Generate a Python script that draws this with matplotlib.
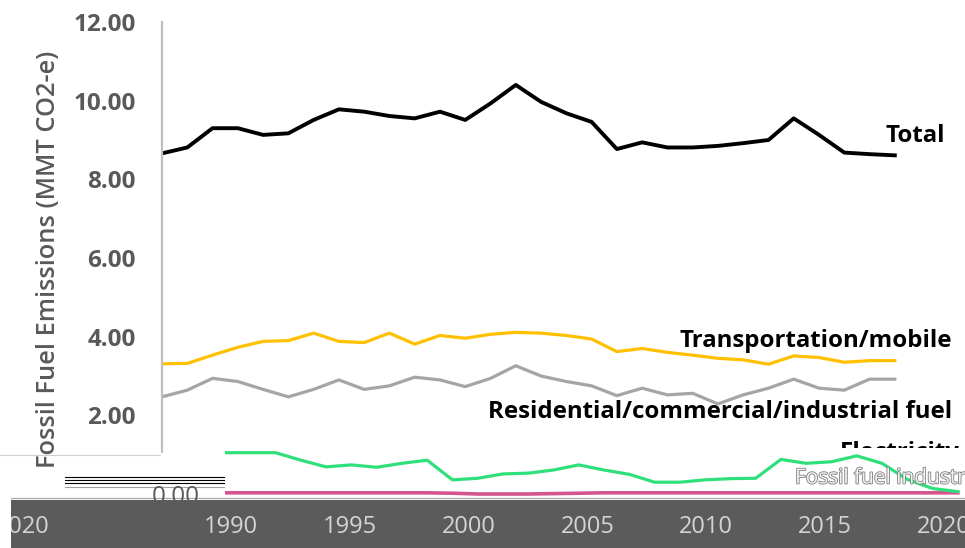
import matplotlib
matplotlib.use("Agg")
import matplotlib.pyplot as plt
import matplotlib.patheffects as pe
from matplotlib.patches import Rectangle

plt.rcParams['font.family'] = ['Open Sans', 'DejaVu Sans']

# data (MMT CO2-e), 1987-2016
years = list(range(1987, 2017))
total = [8.66, 8.81, 9.30, 9.30, 9.13, 9.17, 9.51, 9.78, 9.72, 9.61,
         9.55, 9.72, 9.51, 9.93, 10.40, 9.97, 9.68, 9.46, 8.77, 8.94,
         8.81, 8.81, 8.85, 8.92, 9.00, 9.55, 9.13, 8.68, 8.64, 8.61]
transport = [3.31, 3.32, 3.53, 3.73, 3.88, 3.90, 4.09, 3.88, 3.85, 4.09,
             3.81, 4.03, 3.96, 4.06, 4.11, 4.09, 4.03, 3.94, 3.62, 3.70,
             3.60, 3.53, 3.45, 3.41, 3.30, 3.51, 3.47, 3.35, 3.39, 3.39]
residential = [2.47, 2.64, 2.94, 2.86, 2.66, 2.47, 2.66, 2.90, 2.66, 2.75,
               2.97, 2.90, 2.73, 2.94, 3.26, 3.00, 2.86, 2.75, 2.50, 2.69,
               2.52, 2.56, 2.29, 2.52, 2.69, 2.92, 2.69, 2.64, 2.92, 2.92]
electricity = [1.05, 1.05, 1.05, 0.86, 0.69, 0.74, 0.68, 0.78, 0.86, 0.36,
               0.40, 0.51, 0.53, 0.61, 0.74, 0.61, 0.50, 0.30, 0.30, 0.36,
               0.39, 0.40, 0.88, 0.78, 0.82, 0.97, 0.78, 0.37, 0.14, 0.06]
fossil_industry = [0.03, 0.03, 0.03, 0.03, 0.03, 0.03, 0.03, 0.03, 0.03, 0.02,
                   0.00, 0.00, 0.00, 0.01, 0.02, 0.03, 0.03, 0.03, 0.03, 0.03,
                   0.03, 0.03, 0.03, 0.03, 0.03, 0.03, 0.03, 0.03, 0.03, 0.03]
yticks = [2, 4, 6, 8, 10, 12]
band_years = [1990, 1995, 2000, 2005, 2010, 2015, 2020]

# layout in pixels
W, H = 965, 548
px_year = 25.27
px_unit = 39.33
gray_txt = '#595959'


def box(x0, y0, x1, y1):
    return [x0 / W, (H - y1) / H, (x1 - x0) / W, (y1 - y0) / H]


fig = plt.figure(figsize=(W / 100, H / 100), dpi=100)

# main chart
ax = fig.add_axes(box(162, 22, 965, 494), zorder=1)
ax.set_facecolor('none')
ax.plot(years, total, color='black', lw=2.8, solid_joinstyle='round')
ax.plot(years, transport, color='#ffc000', lw=2.3)
ax.plot(years, residential, color='#a5a5a5', lw=2.3)
ax.set_xlim(1987, 1987 + 803 / px_year)
ax.set_ylim(0, 12)
ax.set_xticks([])
ax.set_yticks(yticks)
ax.set_yticklabels([f"{v:.2f}" for v in yticks])
ax.tick_params(axis='y', length=0, pad=19, labelsize=17.5, labelcolor=gray_txt)
for lab in ax.get_yticklabels():
    lab.set_fontweight('bold')
for side in ['top', 'right', 'bottom']:
    ax.spines[side].set_visible(False)
ax.spines['left'].set_color('#bfbfbf')
ax.spines['left'].set_linewidth(1.6)


def xpx(p):
    return 1987 + (p - 162) / px_year


def ypx(p):
    return (494 - p) / px_unit


lab_kw = dict(fontsize=17.3, fontweight='bold', color='black', ha='right', va='baseline')
ax.text(xpx(945), ypx(142), "Total", **lab_kw)
ax.text(xpx(952), ypx(347), "Transportation/mobile", **lab_kw)
ax.text(xpx(952), ypx(418), "Residential/commercial/industrial fuel", **lab_kw)

fig.text(49 / W, 1 - 259 / H, "Fossil Fuel Emissions (MMT CO2-e)", rotation=90,
         ha='center', va='center', fontsize=18.3, color=gray_txt, fontweight='semibold')

# glitched lower-left strip
over = fig.add_axes([0, 0, 1, 1], zorder=2)
over.set_xlim(0, W)
over.set_ylim(H, 0)
over.axis('off')
over.add_patch(Rectangle((0, 453), 225, 46, color='white'))
over.plot([0, 160], [455, 455], color='#d0d0d0', lw=0.8)
for yy in [477, 480, 483]:
    over.plot([65, 224], [yy, yy], color='black', lw=0.8)
over.plot([65, 224], [487, 487], color='#a0a0a0', lw=0.8)
over.plot([11, 965], [498, 498], color='#a8a8a8', lw=0.9)

# shifted layer with the small series
ax2 = fig.add_axes(box(225, 440, 965, 500), zorder=3)
ax2.set_facecolor('none')
ax2.plot(years, fossil_industry, color='#d6558f', lw=2.6)
ax2.plot(years, electricity, color='#2fe07a', lw=2.3)
ax2.set_xlim(1987, 1987 + 740 / px_year)
ax2.set_ylim(-6 / px_unit, 54 / px_unit)
ax2.set_xticks([])
ax2.set_yticks([0])
ax2.set_yticklabels(["0.00"])
ax2.tick_params(axis='y', length=0, pad=18, labelsize=17.5, labelcolor=gray_txt)
for s in ax2.spines.values():
    s.set_visible(False)
ax2.text(1987 + (795 - 225) / px_year, (494 - 478) / px_unit, "Fossil fuel industry",
         fontsize=15, color='#f2f2f2', va='center', ha='left', clip_on=False,
         path_effects=[pe.withStroke(linewidth=1.2, foreground='#7f7f7f')])

# clipped "Electricity" label
axe = fig.add_axes(box(830, 436, 965, 448), zorder=5)
axe.axis('off')
axe.set_xlim(0, 1)
axe.set_ylim(0, 1)
axe.text(0.07, -0.9, "Electricity", fontsize=17.3, fontweight='bold', color='black',
         ha='left', va='baseline', clip_on=True)

# dark strip with the year labels
band = fig.add_axes(box(11, 500, 965, 548), zorder=4)
band.set_facecolor('#5b5b5b')
band.set_xlim(1990 - (231 - 11) / 23.76, 1990 + (965 - 231) / 23.76)
band.set_ylim(0, 1)
band.set_xticks([])
band.set_yticks([])
for s in band.spines.values():
    s.set_visible(False)
for yr in band_years:
    band.text(yr, 0.44, str(yr), fontsize=17, color='#d4d4d4', ha='center', va='center',
              clip_on=True)
band.text(1990 - (231 - 23) / 23.76, 0.44, "2020", fontsize=17, color='#d4d4d4',
          ha='center', va='center', clip_on=True)

fig.savefig("out.png", dpi=100)
